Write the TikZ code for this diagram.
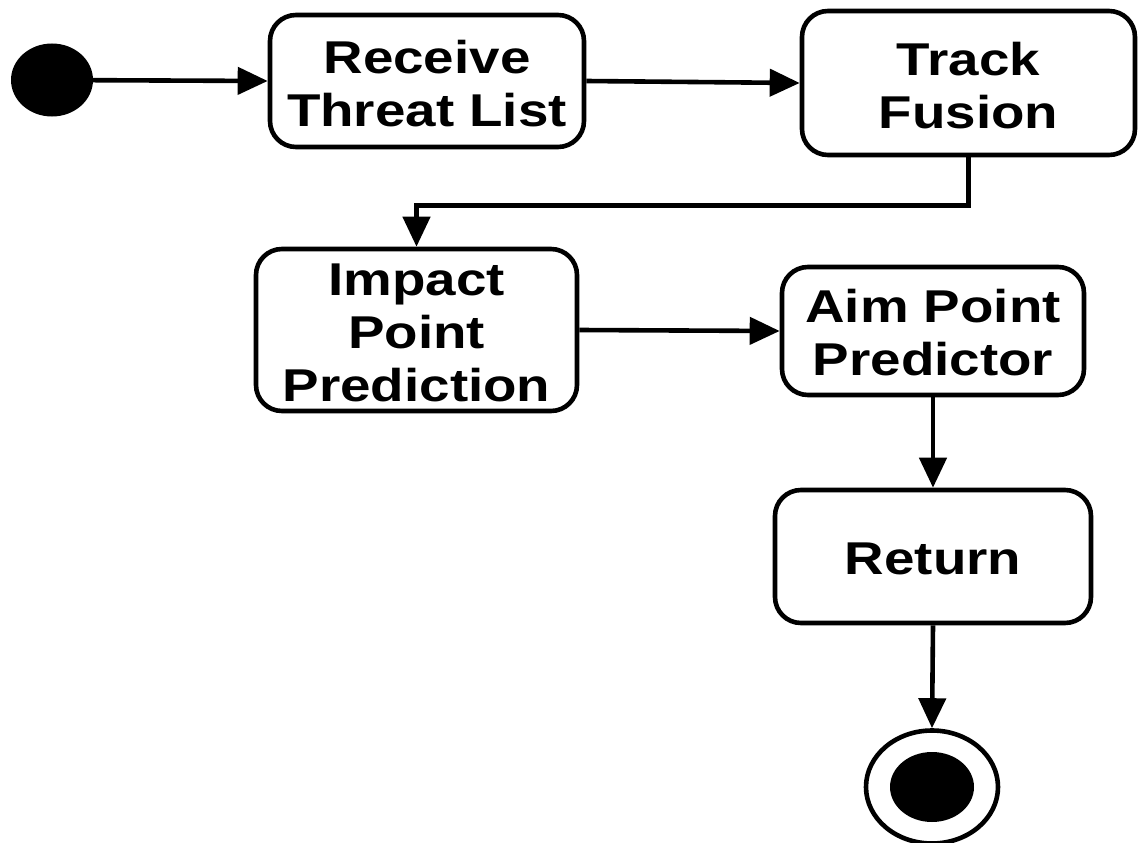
\documentclass[tikz,border=0pt]{standalone}
\usepackage{fontspec}
\newfontfamily\labfont{Liberation Sans}[FakeStretch=1.19]
\usetikzlibrary{shapes.geometric,arrows.meta}
\begin{document}
\begin{tikzpicture}[x=1pt,y=-1pt,
  act/.style={draw, line width=4.6pt, rounded corners=26pt, inner sep=0pt},
  lab/.style={inner sep=0pt, align=center,
    font=\labfont\bfseries\fontsize{46}{53}\selectfont},
  arr/.style={line width=4.6pt, -{Triangle[length=30pt,width=27pt]}},
  startdot/.style={ellipse, fill=black, draw=none, inner sep=0pt}]
\useasboundingbox (0,0) rectangle (1138,843);
\node[startdot, minimum width=82pt, minimum height=73pt] (start) at (52,80) {};
\node[act, minimum width=314pt, minimum height=132pt] (recv) at (427,81) {};
\node[lab] (recvt) at ([yshift=-3pt]recv.center) {Receive\\Threat List};
\node[act, minimum width=333pt, minimum height=144pt] (track) at (968.5,83) {};
\node[lab] (trackt) at ([yshift=-3pt]track.center) {Track\\Fusion};
\node[act, minimum width=321pt, minimum height=162pt] (impact) at (416.5,330) {};
\node[lab] (impactt) at ([yshift=-3pt]impact.center) {Impact\\Point\\Prediction};
\node[act, minimum width=302pt, minimum height=128pt] (aim) at (933,331) {};
\node[lab] (aimt) at ([yshift=-2pt]aim.center) {Aim Point\\Predictor};
\node[act, minimum width=316pt, minimum height=133pt] (ret) at (933,556.5) {};
\node[lab] (rett) at ([yshift=-2pt]ret.center) {Return};
\node[ellipse, draw, line width=4.6pt, minimum width=132pt, minimum height=113pt, inner sep=0pt] (endo) at (932,787) {};
\node[startdot, minimum width=84pt, minimum height=70pt] (endi) at (932,787) {};
\draw[arr] (start) -- (recv.west);
\draw[arr] (recv.east) -- (track.west);
\draw[arr] (track.south) -- ++(0,48) -| (impact.north);
\draw[arr] (impact.east) -- (aim.west);
\draw[arr] (aim.south) -- (ret.north);
\draw[arr] (ret.south) -- (endo.north);
\end{tikzpicture}
\end{document}
